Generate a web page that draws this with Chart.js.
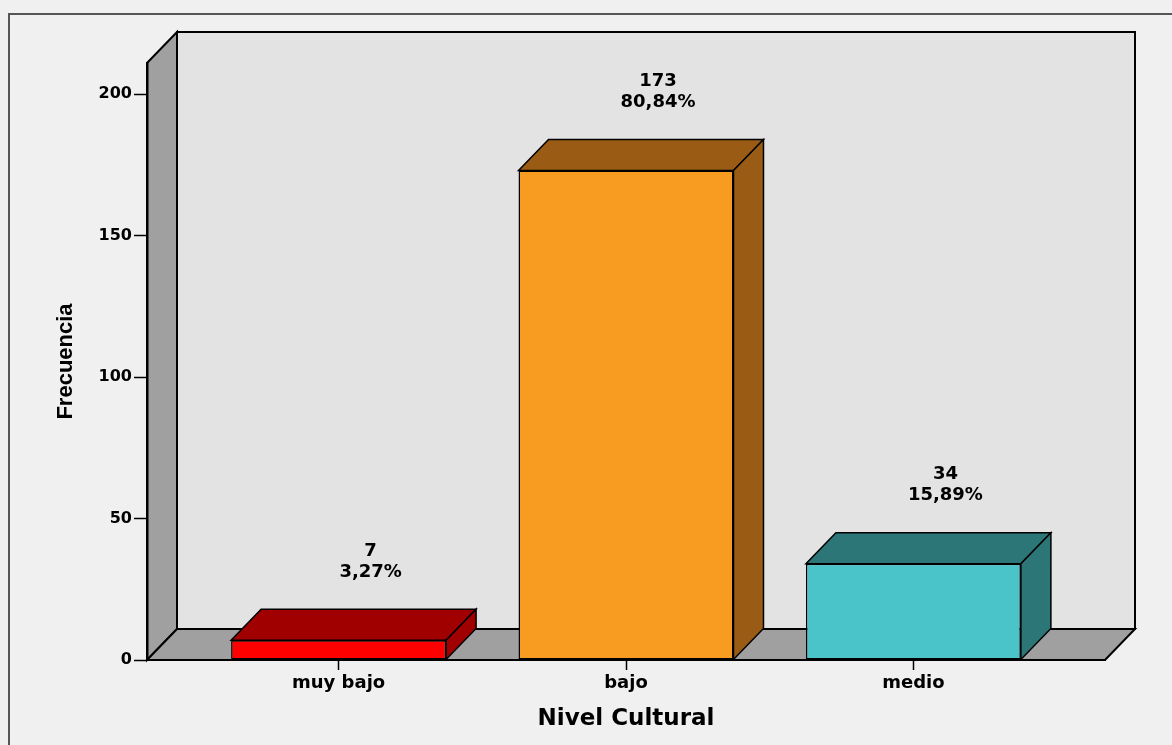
<!DOCTYPE html>
<html>
<head>
<meta charset="utf-8">
<script src="https://cdn.jsdelivr.net/npm/chart.js@4/dist/chart.umd.min.js"></script>
<style>
  html, body { margin: 0; padding: 0; background: #f0f0f0; }
  #wrap { width: 1172px; height: 745px; position: relative; }
</style>
</head>
<body>
<div id="wrap"><canvas id="nivel-chart"></canvas></div>
<script>
// data
const categories = ["muy bajo", "bajo", "medio"];
const counts = [7, 173, 34];
const percents = ["3,27%", "80,84%", "15,89%"];
const yTicks = [0, 50, 100, 150, 200];

const frontColors = ['#ff0000', '#f89b21', '#4ac4c8'];
const darkColors = ['#a00000', '#9a5c14', '#2d7678'];

// depth of the 3d box in pixels
const DX = 30;
const DY = -31;
const FONT = "'DejaVu Sans', sans-serif";

const canvas = document.getElementById("nivel-chart");

function poly(ctx, pts, fill) {
    ctx.beginPath();
    ctx.moveTo(pts[0][0], pts[0][1]);
    for (let i = 1; i < pts.length; i++) ctx.lineTo(pts[i][0], pts[i][1]);
    ctx.closePath();
    ctx.fillStyle = fill;
    ctx.fill();
    ctx.stroke();
}

// walls and floor behind the axes
const boxPlugin = {
    id: 'box3d',
    beforeDraw(chart) {
        const ctx = chart.ctx;
        const a = chart.chartArea;
        ctx.save();
        // outer frame
        ctx.strokeStyle = '#555';
        ctx.lineWidth = 2;
        ctx.strokeRect(9, 14, 1300, 900);

        ctx.strokeStyle = '#000';
        ctx.lineWidth = 2;
        ctx.lineJoin = 'miter';
        // back wall
        poly(ctx, [[a.left + DX, a.top + DY], [a.right + DX, a.top + DY],
                   [a.right + DX, a.bottom + DY], [a.left + DX, a.bottom + DY]], '#e3e3e3');
        // left wall
        poly(ctx, [[a.left, a.top], [a.left + DX, a.top + DY],
                   [a.left + DX, a.bottom + DY], [a.left, a.bottom]], '#a0a0a0');
        // floor
        poly(ctx, [[a.left, a.bottom], [a.left + DX, a.bottom + DY],
                   [a.right + DX, a.bottom + DY], [a.right, a.bottom]], '#a0a0a0');
        ctx.restore();
    },
    afterDatasetsDraw(chart) {
        const ctx = chart.ctx;
        const meta = chart.getDatasetMeta(0);
        ctx.save();
        ctx.strokeStyle = '#000';
        ctx.lineWidth = 1.5;
        meta.data.forEach((bar, i) => {
            const l = bar.x - bar.width / 2;
            const r = bar.x + bar.width / 2;
            const t = bar.y;
            const b = bar.base;
            // top face
            poly(ctx, [[l, t], [l + DX, t + DY], [r + DX, t + DY], [r, t]], darkColors[i]);
            // side face
            poly(ctx, [[r, t], [r + DX, t + DY], [r + DX, b + DY], [r, b]], darkColors[i]);

            // value labels
            ctx.fillStyle = '#000';
            ctx.font = 'bold 18px ' + FONT;
            ctx.textAlign = 'center';
            ctx.textBaseline = 'middle';
            ctx.fillText(String(counts[i]), bar.x + 32, t - 89);
            ctx.fillText(percents[i], bar.x + 32, t - 68);
        });
        ctx.restore();
    }
};

const nivelData = {
    datasets: [{
        data: counts.map((v, i) => ({ x: i, y: v })),
        backgroundColor: frontColors,
        borderColor: '#000',
        borderWidth: 1.5,
        borderSkipped: false,
        barPercentage: 0.748,
        categoryPercentage: 1
    }]
};

const nivelOptions = {
    responsive: true,
    maintainAspectRatio: false,
    animation: false,
    layout: {
        padding: { left: 0, top: 63, right: 67, bottom: 0 }
    },
    scales: {
        x: {
            type: 'linear',
            offset: false,
            min: -2 / 3,
            max: 8 / 3,
            afterBuildTicks: scale => {
                scale.ticks = categories.map((c, i) => ({ value: i }));
            },
            afterFit: scale => { scale.height = 85; },
            ticks: {
                callback: v => categories[v],
                color: '#000',
                padding: 3,
                font: { family: FONT, size: 18, weight: 'bold' }
            },
            grid: {
                offset: false,
                drawOnChartArea: false,
                tickLength: 10,
                color: '#000',
                tickWidth: 1.5
            },
            border: { color: '#000', width: 2 },
            title: {
                display: true,
                text: 'Nivel Cultural',
                color: '#000',
                padding: { top: 0, bottom: 12 },
                font: { family: FONT, size: 23, weight: 'bold' }
            }
        },
        y: {
            min: 0,
            max: 211,
            afterBuildTicks: scale => {
                scale.ticks = yTicks.map(v => ({ value: v }));
            },
            afterFit: scale => { scale.width = 147; },
            ticks: {
                color: '#000',
                padding: 2,
                font: { family: FONT, size: 16, weight: 'bold' }
            },
            grid: {
                drawOnChartArea: false,
                tickLength: 13,
                color: '#000',
                tickWidth: 1.5
            },
            border: { color: '#000', width: 2.5 },
            title: {
                display: true,
                text: 'Frecuencia',
                color: '#000',
                padding: { top: 53, bottom: 0 },
                font: { family: "'Liberation Sans', Arial, sans-serif", size: 22, weight: 'bold' }
            }
        }
    },
    plugins: {
        legend: { display: false },
        tooltip: { enabled: false }
    }
};

let nivelChart = new Chart(canvas, {
    type: 'bar',
    data: nivelData,
    options: nivelOptions,
    plugins: [boxPlugin]
});
</script>
</body>
</html>
